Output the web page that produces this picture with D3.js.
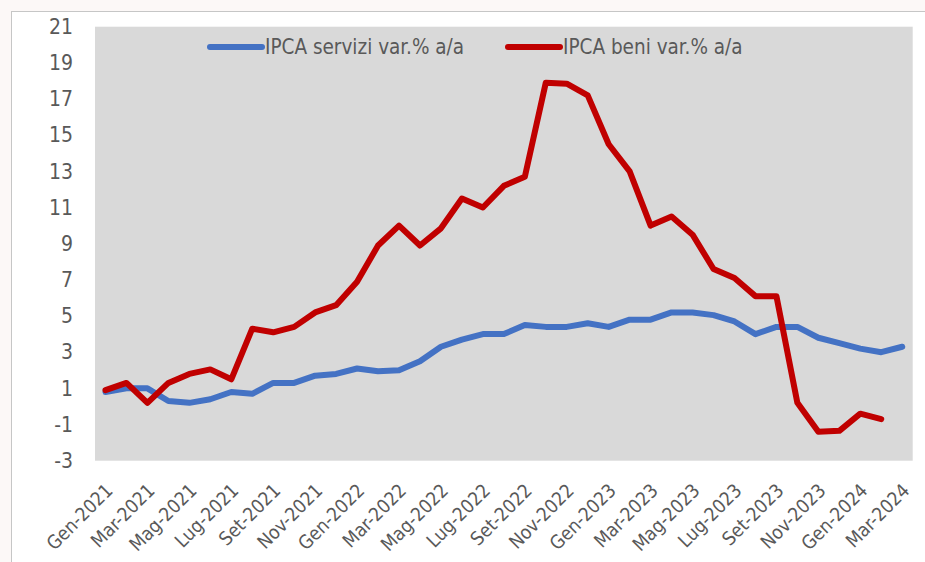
<!DOCTYPE html>
<html><head><meta charset="utf-8">
<script src="https://cdn.jsdelivr.net/npm/d3@7"></script>
<style>
html,body{margin:0;padding:0;background:#fcf8f7;}
svg{display:block}
</style>
</head><body>
<svg id="c" width="925" height="562"></svg>
<script>
const monthNames = ["Gen","Feb","Mar","Apr","Mag","Giu","Lug","Ago","Set","Ott","Nov","Dic"];
const years = [2021, 2022, 2023, 2024];
const months = [];
years.forEach(y => monthNames.forEach(m => months.push(m + "-" + y)));
months.splice(39);

const servizi = [0.8,1.0,1.0,0.3,0.2,0.4,0.8,0.7,1.3,1.3,1.7,1.8,
  2.1,1.95,2.0,2.5,3.3,3.7,4.0,4.0,4.5,4.4,4.4,4.6,
  4.4,4.8,4.8,5.2,5.2,5.05,4.7,4.0,4.4,4.4,3.8,3.5,
  3.2,3.0,3.3];
const beni = [0.9,1.3,0.2,1.3,1.8,2.05,1.5,4.3,4.1,4.4,5.2,5.6,
  6.9,8.9,10.0,8.9,9.85,11.5,11.0,12.2,12.7,17.9,17.85,17.2,
  14.5,13.0,10.0,10.5,9.5,7.6,7.1,6.1,6.1,0.2,-1.4,-1.35,
  -0.4,-0.7];
const yTicks = [-3,-1,1,3,5,7,9,11,13,15,17,19,21];
const xTickLabels = months.filter((d,i) => i % 2 === 0);
const seriesNames = ["IPCA servizi var.% a/a", "IPCA beni var.% a/a"];
const seriesColors = ["#4472c4", "#c00000"];

const svg = d3.select("#c");
const font = "'DejaVu Sans Condensed','Liberation Sans Narrow',sans-serif";

// outer white box
svg.append("rect").attr("x",11.5).attr("y",11.5).attr("width",930).attr("height",570)
  .attr("fill","#ffffff").attr("stroke","#c6c6c6").attr("stroke-width",1);

const L = 95, R = 912.7, T = 26.7, B = 460.7;
const x = d3.scalePoint().domain(months).range([L, R]).padding(0.5);
const y = d3.scaleLinear().domain([-3, 21]).range([B, T]);

svg.append("rect").attr("x",L).attr("y",T).attr("width",R-L).attr("height",B-T).attr("fill","#d9d9d9");

// y axis
const ya = svg.append("g").attr("transform",`translate(${L-22},0)`)
  .call(d3.axisLeft(y).tickValues(yTicks).tickSize(0).tickPadding(0).tickFormat(d => String(d)));
ya.select(".domain").remove();
ya.selectAll("text").attr("font-family",font).attr("font-size",21).attr("fill","#595959");

// x axis
const xa = svg.append("g").attr("transform",`translate(0,${B})`)
  .call(d3.axisBottom(x).tickValues(xTickLabels).tickSize(0).tickFormat(d => d));
xa.select(".domain").remove();
xa.selectAll("text")
  .attr("font-family",font).attr("font-size",19).attr("fill","#595959")
  .attr("text-anchor","end").attr("dy",0).attr("y",0)
  .attr("transform","translate(8,31) rotate(-45)");

// lines
const line = d3.line().x((d,i) => x(months[i])).y(d => y(d));
[servizi, beni].forEach((s, k) => {
  svg.append("path").datum(s).attr("d", line).attr("fill","none")
    .attr("stroke", seriesColors[k]).attr("stroke-width",6)
    .attr("stroke-linejoin","round").attr("stroke-linecap","round");
});

// legend
const legX = [210, 508];
seriesNames.forEach((n, k) => {
  const g = svg.append("g").attr("transform",`translate(${legX[k]},47)`);
  g.append("line").attr("x1",0).attr("x2",52).attr("y1",0).attr("y2",0)
    .attr("stroke",seriesColors[k]).attr("stroke-width",6).attr("stroke-linecap","round");
  g.append("text").attr("x",55).attr("y",0).attr("dy","0.35em")
    .attr("font-family",font).attr("font-size",20.5).attr("fill","#595959").text(n);
});
</script>
</body></html>
